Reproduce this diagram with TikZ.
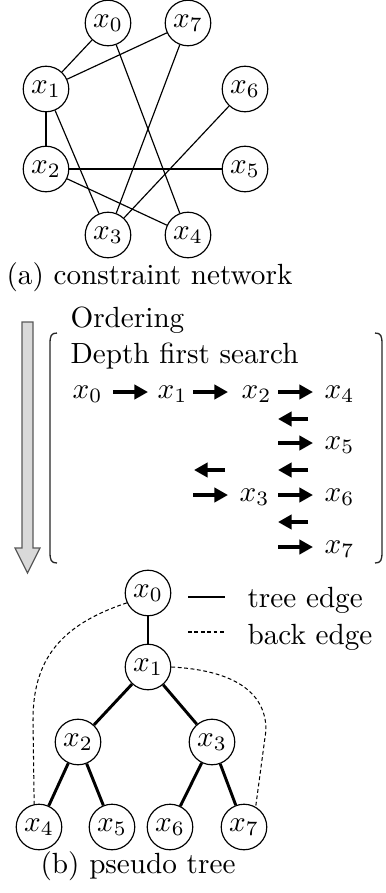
\documentclass[tikz,border=0pt]{standalone}
\usetikzlibrary{arrows.meta}
\begin{document}
\begin{tikzpicture}[x=0.3425pt,y=-0.3425pt,
  vnode/.style={circle,draw,line width=0.4pt,minimum size=15.6pt,inner sep=0pt},
  txt/.style={anchor=base west,inner sep=0pt},
  netedge/.style={line width=0.4pt},
  treeedge/.style={line width=1pt},
  backedge/.style={line width=0.35pt,dash pattern=on 1.3pt off 0.9pt},
  fwd/.style={line width=1.4pt,-{Triangle[length=4.7pt,width=4.9pt]}},
  paren/.style={line width=0.45pt,black!85}]
\useasboundingbox (0,0) rectangle (385,893);
% (a) constraint network
\node[vnode] (a0) at (108,23) {$x_0$};
\node[vnode] (a7) at (188,23) {$x_7$};
\node[vnode] (a1) at (46,89) {$x_1$};
\node[vnode] (a6) at (245,89) {$x_6$};
\node[vnode] (a2) at (46,169) {$x_2$};
\node[vnode] (a5) at (245,169) {$x_5$};
\node[vnode] (a3) at (108,235) {$x_3$};
\node[vnode] (a4) at (188,235) {$x_4$};
\draw[netedge] (a0) -- (a1);
\draw[netedge] (a1) -- (a7);
\draw[netedge] (a1) -- (a2);
\draw[netedge] (a1) -- (a3);
\draw[netedge] (a0) -- (a4);
\draw[netedge] (a7) -- (a3);
\draw[netedge] (a6) -- (a3);
\draw[netedge] (a2) -- (a5);
\draw[netedge] (a2) -- (a4);
\node[txt] (capa) at (6,284) {(a) constraint network};
% ordering arrow
\draw[line width=0.4pt,draw=black!65,fill=black!15]
  (22,322) -- (33,322) -- (33,548) -- (40,548) -- (27.5,573) -- (15,548) -- (22,548) -- cycle;
% parentheses
\draw[paren] (57,333) .. controls (51,333) and (50,336) .. (50,344) -- (50,552) .. controls (50,560) and (51,563) .. (57,563);
\draw[paren] (375,333) .. controls (381,333) and (382,336) .. (382,344) -- (382,552) .. controls (382,560) and (381,563) .. (375,563);
\node[txt] (ord) at (70,327) {Ordering};
\node[txt] (dfs) at (70,363) {Depth first search};
\node[txt] (o0) at (72,398) {$x_0$};
\node[txt] (o1) at (157,398) {$x_1$};
\node[txt] (o2) at (241,398) {$x_2$};
\node[txt] (o4) at (324,398) {$x_4$};
\node[txt] (o5) at (324,449) {$x_5$};
\node[txt] (o3) at (239,501) {$x_3$};
\node[txt] (o6) at (324,501) {$x_6$};
\node[txt] (o7) at (324,553) {$x_7$};
\coordinate (r1s) at (113,392); \coordinate (r1e) at (148,392);
\coordinate (r2s) at (193,392); \coordinate (r2e) at (228,392);
\coordinate (r3s) at (278,392); \coordinate (r3e) at (313,392);
\coordinate (l1s) at (308,419); \coordinate (l1e) at (278,419);
\coordinate (r4s) at (278,443); \coordinate (r4e) at (313,443);
\coordinate (l2s) at (225,470); \coordinate (l2e) at (194,470);
\coordinate (l3s) at (308,470); \coordinate (l3e) at (278,470);
\coordinate (r5s) at (193,495); \coordinate (r5e) at (228,495);
\coordinate (r6s) at (278,495); \coordinate (r6e) at (313,495);
\coordinate (l4s) at (308,522); \coordinate (l4e) at (278,522);
\coordinate (r7s) at (278,547); \coordinate (r7e) at (313,547);
\foreach \a/\b in {r1s/r1e,r2s/r2e,r3s/r3e,l1s/l1e,r4s/r4e,l2s/l2e,l3s/l3e,r5s/r5e,r6s/r6e,l4s/l4e,r7s/r7e}
  \draw[fwd] (\a) -- (\b);
% (b) pseudo tree
\node[vnode] (t0) at (148,593) {$x_0$};
\node[vnode] (t1) at (148,667) {$x_1$};
\node[vnode] (t2) at (78,742) {$x_2$};
\node[vnode] (t3) at (212,742) {$x_3$};
\node[vnode] (t4) at (39,827) {$x_4$};
\node[vnode] (t5) at (112,827) {$x_5$};
\node[vnode] (t6) at (170,827) {$x_6$};
\node[vnode] (t7) at (244,827) {$x_7$};
\draw[treeedge] (t0) -- (t1);
\draw[treeedge] (t1) -- (t2);
\draw[treeedge] (t1) -- (t3);
\draw[treeedge] (t2) -- (t4);
\draw[treeedge] (t2) -- (t5);
\draw[treeedge] (t3) -- (t6);
\draw[treeedge] (t3) -- (t7);
\coordinate (b0) at (33,720);
\coordinate (b1) at (266,730);
\draw[backedge] (t0.205) .. controls (60,625) and (33,660) .. (b0) -- (t4.102);
\draw[backedge] (t1.east) .. controls (230,670) and (266,690) .. (b1) -- (t7.60);
% legend
\coordinate (lg1s) at (188,597); \coordinate (lg1e) at (225,597);
\coordinate (lg2s) at (188,632); \coordinate (lg2e) at (225,632);
\draw[treeedge] (lg1s) -- (lg1e);
\draw[backedge] (lg2s) -- (lg2e);
\node[txt] (lgt) at (247,607) {tree edge};
\node[txt] (lgb) at (247,644) {back edge};
\node[txt] (capb) at (40,873) {(b) pseudo tree};
\end{tikzpicture}
\end{document}
